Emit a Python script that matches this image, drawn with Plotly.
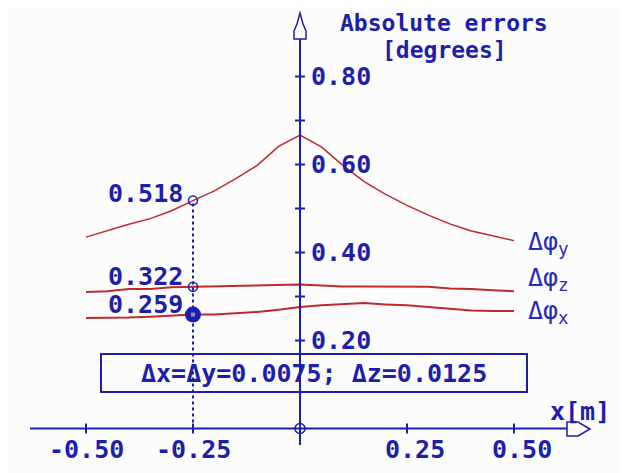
import plotly.graph_objects as go

# ---------------- data ----------------
x_pos = [-0.50, -0.45, -0.40, -0.35, -0.30, -0.25, -0.20, -0.15, -0.10, -0.05, 0.00,
         0.05, 0.10, 0.15, 0.20, 0.25, 0.30, 0.35, 0.40, 0.45, 0.50]
dphi_y = [0.435, 0.450, 0.464, 0.477, 0.495, 0.518, 0.540, 0.568, 0.598, 0.641, 0.667,
          0.640, 0.598, 0.561, 0.532, 0.507, 0.485, 0.465, 0.449, 0.438, 0.427]
dphi_z = [0.310, 0.312, 0.317, 0.317, 0.321, 0.322, 0.322, 0.323, 0.324, 0.325, 0.327,
          0.325, 0.323, 0.323, 0.323, 0.323, 0.322, 0.318, 0.317, 0.314, 0.312]
dphi_x = [0.251, 0.251, 0.252, 0.254, 0.257, 0.259, 0.259, 0.262, 0.265, 0.270, 0.276,
          0.280, 0.283, 0.285, 0.282, 0.280, 0.276, 0.272, 0.268, 0.267, 0.267]

probe_x = -0.25
probe_vals = [0.518, 0.322, 0.259]
probe_labels = ["0.518", "0.322", "0.259"]

x_ticks = [-0.50, -0.25, 0.25, 0.50]
x_tick_labels = ["-0.50", "-0.25", "0.25", "0.50"]
y_ticks = [0.2, 0.3, 0.4, 0.5, 0.6, 0.7, 0.8]
y_label_ticks = [0.2, 0.4, 0.6, 0.8]
y_tick_labels = ["0.20", "0.40", "0.60", "0.80"]

series_subs = ["y", "z", "x"]
y_title_lines = ["Absolute errors", "[degrees]"]
x_title = "x[m]"
note_text = "Δx=Δy=0.0075; Δz=0.0125"

# ---------------- geometry (page pixel <-> data) ----------------
W, H = 629, 473
PAGE_OFF = 8             # default body margin of the page
X0, SX = 300.0, 428.0    # page pixel of x=0, pixels per unit
Y0, SY = 428.5, 440.0    # page pixel of y=0, pixels per unit

def dx(px):
    return (px - X0) / SX

def dy(py):
    return (Y0 - py) / SY

BLUE = "#1e1eaa"
BLUE2 = "#2a2ab8"
RED = "#c0282c"
BG = "#fcfcfc"
FONT = "DejaVu Sans Mono"
FS = 25
ADV = 0.602 * FS

fig = go.Figure()

# curves
for vals, w in [(dphi_y, 1.5), (dphi_z, 2), (dphi_x, 2)]:
    fig.add_trace(go.Scatter(x=x_pos, y=vals, mode="lines",
                             line=dict(color=RED, width=w), hoverinfo="skip"))

# dotted probe line
fig.add_trace(go.Scatter(x=[probe_x, probe_x], y=[0, probe_vals[0]], mode="lines",
                         line=dict(color=BLUE, width=2, dash="dot"), hoverinfo="skip"))
# probe markers
fig.add_trace(go.Scatter(x=[probe_x, probe_x], y=probe_vals[:2], mode="markers",
                         marker=dict(symbol="circle-open", size=9, color=BLUE,
                                     line=dict(width=1.5, color=BLUE)), hoverinfo="skip"))
fig.add_trace(go.Scatter(x=[probe_x], y=[probe_vals[2]], mode="markers",
                         marker=dict(symbol="circle", size=16, color=BLUE), hoverinfo="skip"))
fig.add_trace(go.Scatter(x=[probe_x], y=[probe_vals[2]], mode="markers",
                         marker=dict(symbol="square", size=4, color="#8a8ad8"), hoverinfo="skip"))

shapes = []
axis_line = dict(color=BLUE, width=2)
# x axis line
shapes.append(dict(type="line", x0=dx(30), x1=dx(567), y0=0, y1=0, line=axis_line))
# y axis line
shapes.append(dict(type="line", x0=0, x1=0, y0=dy(445), y1=dy(39), line=axis_line))
# x arrow (hollow)
xa = [(567, 422), (578, 422), (590, 429), (578, 436), (567, 436)]
shapes.append(dict(type="path",
                   path="M " + " L ".join(f"{dx(a)},{dy(b)}" for a, b in xa) + " Z",
                   line=dict(color=BLUE, width=1.5), fillcolor=BG))
# y arrow (hollow)
ya = [(300, 13), (303, 24), (306, 31), (306, 39), (294, 39), (294, 31), (297, 24)]
shapes.append(dict(type="path",
                   path="M " + " L ".join(f"{dx(a)},{dy(b)}" for a, b in ya) + " Z",
                   line=dict(color=BLUE, width=1.5), fillcolor=BG))
# x ticks
for t in x_ticks:
    shapes.append(dict(type="line", x0=t, x1=t, y0=dy(Y0 + 5), y1=dy(Y0 - 5), line=axis_line))
# y ticks
for t in y_ticks:
    shapes.append(dict(type="line", x0=dx(X0 - 5), x1=dx(X0 + 5), y0=t, y1=t, line=axis_line))
# origin circle
shapes.append(dict(type="circle", x0=dx(X0 - 5), x1=dx(X0 + 5), y0=dy(Y0 + 5), y1=dy(Y0 - 5),
                   line=dict(color=BLUE, width=1.5)))
# note box
shapes.append(dict(type="rect", x0=dx(101), x1=dx(527), y0=dy(392), y1=dy(354),
                   line=dict(color=BLUE, width=2)))

ann = []
font = dict(family=FONT, size=FS, color=BLUE, weight="bold")
# y tick labels
for t, lab in zip(y_label_ticks, y_tick_labels):
    ann.append(dict(x=0, y=t, text=lab, xanchor="left", yanchor="middle", xshift=9,
                    showarrow=False, font=font))
# x tick labels: decimal point sits on the tick
for t, lab in zip(x_ticks, x_tick_labels):
    k = lab.index(".")
    shift = (len(lab) / 2 - (k + 0.5)) * ADV
    ann.append(dict(x=t, y=dy(449), text=lab, xanchor="center", yanchor="middle",
                    xshift=shift, showarrow=False, font=font))
# axis titles
ann.append(dict(x=dx(548), y=dy(411), text=x_title, xanchor="left", yanchor="middle",
                showarrow=False, font=font))
title_font = dict(family=FONT, size=23, color=BLUE, weight="bold")
for line, py in zip(y_title_lines, [23, 50]):
    ann.append(dict(x=dx(444), y=dy(py), text=line, xanchor="center",
                    yanchor="middle", showarrow=False, font=title_font))
# probe labels
for v, lab, ys in zip(probe_vals, probe_labels, [7, 10, 10]):
    ann.append(dict(x=probe_x, y=v, text=lab, xanchor="right", yanchor="middle",
                    xshift=-8, yshift=ys, showarrow=False, font=font))
# series labels
for vals, sub, ys in zip([dphi_y, dphi_z, dphi_x], series_subs, [-2, 12, -1]):
    ann.append(dict(x=x_pos[-1], y=vals[-1], text=f"Δφ<sub>{sub}</sub>",
                    xanchor="left", yanchor="middle",
                    xshift=12, yshift=ys, showarrow=False,
                    font=dict(family=FONT, size=FS, color=BLUE2)))
# note text
ann.append(dict(x=dx(314), y=dy(373), text=note_text, xanchor="center", yanchor="middle",
                showarrow=False, font=font))

fig.update_layout(
    width=W, height=H,
    margin=dict(l=0, r=0, t=0, b=0),
    paper_bgcolor=BG, plot_bgcolor=BG,
    showlegend=False,
    xaxis=dict(range=[dx(PAGE_OFF), dx(PAGE_OFF + W)], visible=False, fixedrange=True),
    yaxis=dict(range=[dy(PAGE_OFF + H), dy(PAGE_OFF)], visible=False, fixedrange=True),
    shapes=shapes, annotations=ann,
)

fig.write_html("out.html")
